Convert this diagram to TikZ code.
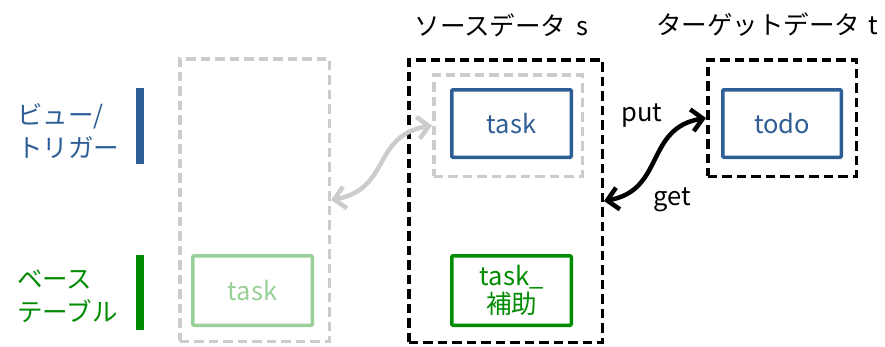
\documentclass[tikz,border=0pt]{standalone}
\usepackage{fontspec}
\setmainfont{Noto Sans CJK JP}
\usetikzlibrary{arrows.meta}
\definecolor{myblue}{RGB}{46,94,150}
\definecolor{mygreen}{RGB}{0,140,0}
\definecolor{lightgreen}{RGB}{153,208,153}
\definecolor{lightgray}{RGB}{204,204,204}
\begin{document}
\begin{tikzpicture}[x=1pt,y=-1pt,
  fnt/.style={font=\fontsize{25.5}{30}\selectfont},
  tbl/.style={draw, line width=3.5pt, inner sep=0pt, rounded corners=1pt, fnt, align=center},
  grp/.style={draw, line width=3.5pt, inner sep=0pt, dash pattern=on 9.5pt off 5pt},
  bar/.style={fill, inner sep=0pt, minimum width=8pt},
  lab/.style={inner sep=0pt, anchor=west, align=left, font=\fontsize{25.5}{33}\selectfont},
  conn/.style={line width=4.5pt, {Straight Barb[length=11pt,width=22pt]}-{Straight Barb[length=11pt,width=22pt]}}
]
\useasboundingbox (0,0) rectangle (885,346);

% titles
\node[fnt, inner sep=0pt] (tsrc) at (501.5,25) {ソースデータ\hspace{10pt}s};
\node[fnt, inner sep=0pt] (ttgt) at (767,25) {ターゲットデータ\hspace{8pt}t};

% left labels and bars
\node[lab, text=myblue] (lview) at (17,131.5) {ビュー/\\トリガー};
\node[lab, text=mygreen] (lbase) at (17,296.5) {ベース\\テーブル};
\node[bar, fill=myblue, minimum height=76pt] (bview) at (140,125.5) {};
\node[bar, fill=mygreen, minimum height=75pt] (bbase) at (140,292.5) {};

% groups
\node[grp, draw=lightgray, minimum width=149.5pt, minimum height=282.5pt] (lgrp) at (254.5,200) {};
\node[grp, draw=black, minimum width=193.5pt, minimum height=282.5pt] (src) at (505.5,201) {};
\node[grp, draw=lightgray, minimum width=148.5pt, minimum height=101.5pt] (vgrp) at (508,125.5) {};
\node[grp, draw=black, minimum width=148.5pt, minimum height=116.5pt] (tgt) at (782,118) {};

% tables
\node[tbl, draw=lightgreen, text=lightgreen, minimum width=119.5pt, minimum height=69.5pt] (ltask) at (252.5,290.5) {task};
\node[tbl, draw=myblue, text=myblue, minimum width=119.5pt, minimum height=67.5pt] (task) at (511.5,123.5) {task};
\node[tbl, draw=mygreen, text=mygreen, minimum width=119.5pt, minimum height=69.5pt] (aux) at (511.5,290.5) {task\_\\[-2pt]補助};
\node[tbl, draw=myblue, text=myblue, minimum width=118.5pt, minimum height=67.5pt] (todo) at (782,123.5) {todo};

% connectors
\draw[conn, lightgray] (lgrp.east) .. controls +(60,-11) and +(-60,10) .. (vgrp.west);
\draw[conn, black] (src.east) .. controls +(61,-11) and +(-61,10) .. (tgt.west);
\node[fnt, inner sep=0pt] (put) at (642,116) {put};
\node[fnt, inner sep=0pt] (get) at (672,200) {get};
\end{tikzpicture}
\end{document}
